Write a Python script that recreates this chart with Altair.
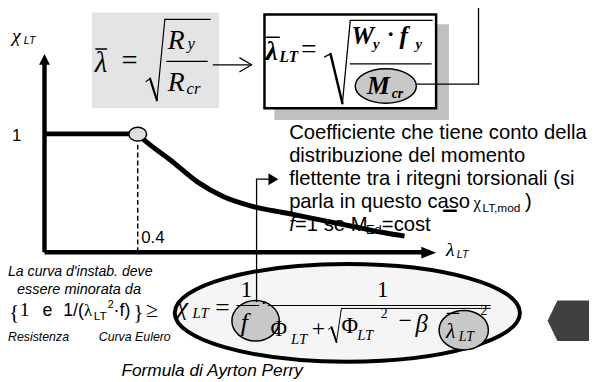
import altair as alt
import pandas as pd

# ---------------- data: the chi_LT(lambda_LT) curve ----------------
lam = [0.0, 0.40, 0.416, 0.543, 0.656, 0.769, 0.896, 1.037, 1.177, 1.319, 1.460, 1.545]
chi = [1.0, 1.0, 0.969, 0.775, 0.594, 0.469, 0.386, 0.331, 0.275, 0.219, 0.164, 0.136]
plateau_end = 0.4
y_tick_label = "1"
x_tick_label = "0.4"

note_lines = [
    "Coefficiente che tiene conto della",
    "distribuzione del momento",
    "flettente tra i ritegni torsionali (si",
    "parla in questo caso",
]
left_lines = ["La curva d'instab. deve", "essere minorata da"]
left_tags = ["Resistenza", "Curva Eulero"]
caption = "Formula di Ayrton Perry"

SANS = "Liberation Sans"
SERIF = "Liberation Serif"

# layout helpers: page position -> chart units (lambda, chi)
X0, Y0, KX, KY = 45.0, 253.0, 236.25, 120.0
def ux(p):
    return (p - X0) / KX
def uy(p):
    return (Y0 - p) / KY

M = 8  # page margin
W, H = 597 - 2 * M, 382 - 2 * M
xs = alt.Scale(domain=[ux(M), ux(M + W)], nice=False, zero=False)
ys = alt.Scale(domain=[uy(M + H), uy(M)], nice=False, zero=False)

def X(f="x"):
    return alt.X(f + ":Q", scale=xs, axis=None)
def Y(f="y"):
    return alt.Y(f + ":Q", scale=ys, axis=None)

# ---------------- texts ----------------
N, I, B = "normal", "italic", "bold"
texts = [
    ("χ", 12, 40, 20, SERIF, I, N),
    ("LT", 24, 42, 11, SANS, I, N),
    (y_tick_label, 12, 140, 17, SANS, N, N),
    (x_tick_label, 143, 244, 17, SANS, N, N),
    ("λ", 452, 257, 20, SERIF, I, N),
    ("LT", 463, 259, 11, SANS, I, N),
    # formula 1
    ("λ", 96, 70, 29, SERIF, I, N),
    ("=", 123, 68, 29, SERIF, N, N),
    ("R", 170, 47, 28, SERIF, I, N),
    ("y", 190, 47, 17, SERIF, I, N),
    ("R", 170, 90, 28, SERIF, I, N),
    ("cr", 189, 93, 17, SERIF, I, N),
    # formula 2
    ("λ", 269, 58, 28, SERIF, I, B),
    ("LT", 283, 60, 16, SERIF, I, B),
    ("=", 305, 56, 28, SERIF, N, N),
    ("W", 356, 42, 26, SERIF, I, B),
    ("y", 378, 47, 15, SERIF, I, B),
    ("·", 392, 40, 24, SERIF, N, B),
    ("f", 405, 42, 26, SERIF, I, B),
    ("y", 421, 47, 15, SERIF, I, B),
    ("M", 372, 93, 26, SERIF, I, B),
    ("cr", 397, 97, 14, SERIF, I, B),
    # note
    (note_lines[0], 293, 138, 20.5, SANS, N, N),
    (note_lines[1], 293, 161.5, 20.5, SANS, N, N),
    (note_lines[2], 293, 185, 20.5, SANS, N, N),
    (note_lines[3], 293, 208, 20.5, SANS, N, N),
    ("χ", 480, 208, 17, SERIF, N, N),
    ("LT,mod", 489, 212, 12, SANS, N, N),
    (")", 532, 208, 20.5, SANS, N, N),
    ("f", 293, 231, 20.5, SANS, I, N),
    ("=1 se M", 299, 231, 20.5, SANS, N, N),
    ("Ed", 371, 235, 13, SANS, N, N),
    ("=cost", 387, 231, 20.5, SANS, N, N),
    # left block
    (left_lines[0], 8, 277, 14.3, SANS, I, N),
    (left_lines[1], 17, 295, 14.7, SANS, I, N),
    ("{", 9, 321, 22, SERIF, N, N),
    ("1", 20, 318, 20, SERIF, N, N),
    ("e", 43, 318, 18, SANS, N, N),
    ("1/(", 64, 318, 18, SANS, N, N),
    ("λ", 85, 318, 17, SERIF, N, N),
    ("LT", 95, 322, 12, SANS, N, N),
    ("2", 109, 310, 11, SANS, N, N),
    ("·f)", 115, 318, 18, SANS, N, N),
    ("}", 135, 321, 22, SERIF, N, N),
    ("≥", 148, 319, 22, SERIF, N, N),
    (left_tags[0], 8, 343, 12.5, SANS, I, N),
    (left_tags[1], 100, 343, 12.5, SANS, I, N),
    (caption, 123, 378, 17.5, SANS, I, N),
    # Ayrton-Perry formula
    ("χ", 179, 317, 26, SERIF, I, N),
    ("LT", 195, 320, 15, SERIF, I, N),
    ("=", 218, 318, 26, SERIF, N, N),
    ("1", 244, 298, 23, SERIF, N, N),
    ("f", 244, 333, 26, SERIF, I, N),
    ("·", 264, 311, 20, SERIF, N, N),
    ("1", 382, 298, 23, SERIF, N, N),
    ("Φ", 274, 338, 23, SERIF, N, N),
    ("LT", 295, 346, 15, SERIF, I, N),
    ("+", 316, 338, 24, SERIF, N, N),
    ("Φ", 346, 335, 23, SERIF, N, N),
    ("LT", 362, 342, 15, SERIF, I, N),
    ("2", 386, 320, 14, SERIF, N, N),
    ("−", 404, 330, 24, SERIF, N, N),
    ("β", 421, 334, 25, SERIF, I, N),
    ("λ", 452, 340, 22, SERIF, I, N),
    ("LT", 465, 343, 14, SERIF, I, N),
    ("2", 487, 317, 14, SERIF, N, N),
]
tdf = pd.DataFrame(texts, columns=["t", "px", "py", "s", "font", "style", "weight"])
tdf["x"] = tdf["px"].map(ux)
tdf["y"] = tdf["py"].map(uy)

text_layers = []
for (font, style, weight), g in tdf.groupby(["font", "style", "weight"]):
    text_layers.append(
        alt.Chart(g[["t", "x", "y", "s"]]).mark_text(
            font=font, fontStyle=style, fontWeight=weight,
            align="left", baseline="alphabetic", color="black"
        ).encode(x=X(), y=Y(), text="t:N", size=alt.Size("s:Q", scale=None))
    )

# ---------------- thin lines ----------------
segs = [
    (216, 63, 253, 63, 1.3), (243, 56, 255, 63, 1.3), (243, 70, 255, 63, 1.3),
    (148, 80, 152, 77, 1.2), (152, 77, 159, 99, 2.2), (159, 99, 167, 17, 1.2), (167, 17, 213, 17, 1.2),
    (97, 47, 108, 47, 1.3), (169, 59.5, 210, 59.5, 1.3),
    (329, 55, 335, 52, 1.3), (335, 52, 347, 102, 2.5), (347, 102, 355, 18, 1.3), (355, 18, 438, 18, 1.3),
    (270, 35, 283, 35, 1.5), (355, 62, 437, 62, 1.3),
    (422, 82.5, 485, 82.5, 1.3), (485, 82.5, 485, 0, 1.3),
    (260, 303, 260, 179, 1.3), (260, 179, 273, 179, 1.3),
    (240, 307, 262, 307, 1.2), (272, 307, 497, 307, 1.2),
    (333, 331, 336, 329, 1.0), (336, 329, 341, 344, 2.0), (341, 344, 346, 310, 1.0), (346, 310, 497, 310, 1.0),
    (453, 315, 465, 315, 1.2),
    (450, 211, 462, 211, 2.5),
]
sdf = pd.DataFrame(segs, columns=["a", "b", "c", "d", "w"])
sdf["x"] = sdf["a"].map(ux); sdf["y"] = sdf["b"].map(uy)
sdf["x2"] = sdf["c"].map(ux); sdf["y2"] = sdf["d"].map(uy)
thin = alt.Chart(sdf[["x", "y", "x2", "y2", "w"]]).mark_rule(color="black", strokeCap="round").encode(
    x=X(), y=Y(), x2="x2:Q", y2="y2:Q", strokeWidth=alt.StrokeWidth("w:Q", scale=None))

# ---------------- axes ----------------
axes_df = pd.DataFrame({
    "x": [0.0, 0.0], "y": [0.0, 0.0],
    "x2": [0.0, ux(429)], "y2": [uy(62), 0.0],
})
axes = alt.Chart(axes_df).mark_rule(color="black", strokeWidth=4.5).encode(
    x=X(), y=Y(), x2="x2:Q", y2="y2:Q")

dash_df = pd.DataFrame({"x": [plateau_end], "y": [0.0], "y2": [uy(141)]})
dashed = alt.Chart(dash_df).mark_rule(color="black", strokeWidth=1.5, strokeDash=[5, 3]).encode(
    x=X(), y=Y(), y2="y2:Q")

curve_df = pd.DataFrame({"x": lam, "y": chi})
curve = alt.Chart(curve_df).mark_line(color="black", strokeWidth=5, interpolate="monotone").encode(
    x=X(), y=Y())

# ---------------- shapes ----------------
def ellipse_path(r):
    k = 0.5523
    return (f"M-1,0C-1,{-k*r:.4f} {-k:.4f},{-r:.4f} 0,{-r:.4f}"
            f"C{k:.4f},{-r:.4f} 1,{-k*r:.4f} 1,0"
            f"C1,{k*r:.4f} {k:.4f},{r:.4f} 0,{r:.4f}"
            f"C{-k:.4f},{r:.4f} -1,{k*r:.4f} -1,0Z")

def shape(cx, cy, path, width, fill, stroke=None, sw=0.0):
    d = pd.DataFrame({"x": [ux(cx)], "y": [uy(cy)]})
    kw = dict(shape=path, filled=True, fill=fill, size=width * width, opacity=1, fillOpacity=1)
    if stroke is not None:
        kw.update(stroke=stroke, strokeWidth=sw, strokeOpacity=1)
    else:
        kw.update(strokeWidth=0)
    return alt.Chart(d).mark_point(**kw).encode(x=X(), y=Y())

def rect(x1, y1, x2, y2, fill, stroke=None, sw=0.0):
    d = pd.DataFrame({"x": [ux(x1)], "x2": [ux(x2)], "y": [uy(y1)], "y2": [uy(y2)]})
    kw = dict(fill=fill, opacity=1)
    if stroke is not None:
        kw.update(stroke=stroke, strokeWidth=sw)
    return alt.Chart(d).mark_rect(**kw).encode(x=X(), x2="x2:Q", y=Y(), y2="y2:Q")

box1 = rect(93, 10, 222, 107, "#e4e4e4")
shadow = rect(278, 22, 455, 119, "#c0c0c0")
box2 = rect(268, 12, 442, 107, "#ffffff", "black", 2.5)

big_ell = shape(352, 314.5, ellipse_path(99 / 350), 350, "#f5f5f5", "black", 4)
mcr_ell = shape(391, 84.5, ellipse_path(35 / 62), 62, "#c8c8c8", "black", 1.5)
f_ell = shape(259, 322.5, ellipse_path(41 / 48), 48, "#c8c8c8", "black", 1.5)
lam_ell = shape(470, 332, ellipse_path(40 / 50), 50, "#c8c8c8", "black", 1.5)
knot = shape(139.5, 133.3, ellipse_path(14 / 18), 18, "#e0e0e0", "black", 1.5)

arrow_y = shape(45, 57.5, "M0,-1L1,1L-1,1Z", 11, "black")
arrow_x = shape(434.5, 253.5, "M1,0L-1,-0.8L-1,0.8Z", 15, "black")
arrow_f = shape(277, 179, "M1,0L-1,-1.2L-1,1.2Z", 10, "black")
hexagon = shape(576, 322.5, "M-1,0L-0.524,-0.976L1,-0.976L1,0.976L-0.524,0.976Z", 42, "#404040")

chart = alt.layer(
    box1, shadow, box2, big_ell, mcr_ell, f_ell, lam_ell,
    *text_layers, thin, dashed, axes, curve, knot, arrow_y, arrow_x, arrow_f, hexagon
).properties(
    width=W, height=H,
    padding={"left": 0, "top": 0, "right": M, "bottom": M},
    autosize=alt.AutoSizeParams(type="none"),
    background="white",
).configure_view(strokeWidth=0)

chart.save("out.html", embed_options={"renderer": "svg", "actions": False})
